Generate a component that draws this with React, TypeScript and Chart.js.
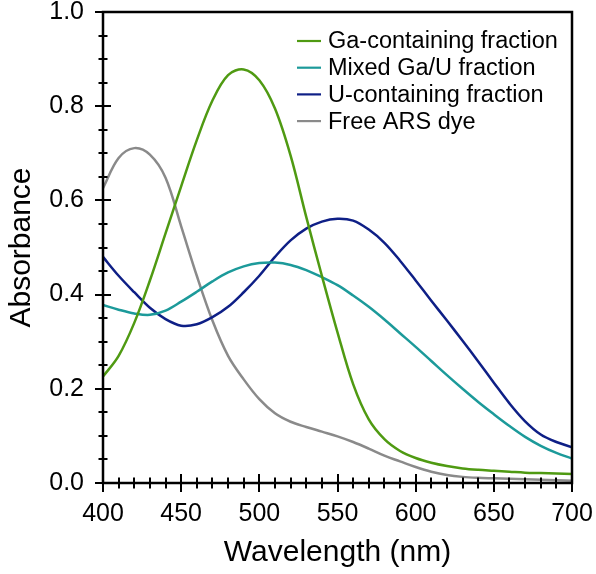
import React, { useEffect, useRef } from "react";
import { Chart, registerables } from "chart.js";

Chart.register(...registerables);

// Wavelength grid (nm)
const wavelengths = [
  400, 410, 420, 430, 440, 450, 460, 470, 480, 490, 500, 510, 520, 530, 540, 550,
  560, 570, 580, 590, 600, 610, 620, 630, 640, 650, 660, 670, 680, 690, 700,
];

// Absorbance series
const gaFraction = [
  0.226, 0.27, 0.34, 0.43, 0.53, 0.63, 0.728, 0.812, 0.866, 0.878, 0.855, 0.795,
  0.695, 0.565, 0.44, 0.32, 0.21, 0.135, 0.093, 0.068, 0.053, 0.043, 0.036, 0.031,
  0.028, 0.026, 0.024, 0.022, 0.021, 0.02, 0.019,
];
const mixedFraction = [
  0.378, 0.368, 0.36, 0.357, 0.366, 0.385, 0.406, 0.428, 0.447, 0.46, 0.467, 0.468,
  0.463, 0.452, 0.437, 0.42, 0.398, 0.374, 0.347, 0.318, 0.289, 0.259, 0.229, 0.2,
  0.172, 0.146, 0.121, 0.098, 0.079, 0.064, 0.052,
];
const uFraction = [
  0.48, 0.44, 0.405, 0.372, 0.348, 0.334, 0.337, 0.352, 0.374, 0.405, 0.44, 0.48,
  0.515, 0.54, 0.555, 0.561, 0.557, 0.538, 0.51, 0.472, 0.43, 0.387, 0.345, 0.302,
  0.258, 0.213, 0.169, 0.131, 0.103, 0.087, 0.076,
];
const freeDye = [
  0.626, 0.69, 0.711, 0.697, 0.648, 0.545, 0.44, 0.345, 0.27, 0.22, 0.178, 0.148,
  0.13, 0.119, 0.109, 0.099, 0.087, 0.073, 0.058, 0.046, 0.034, 0.024, 0.017, 0.013,
  0.011, 0.01, 0.009, 0.008, 0.007, 0.006, 0.005,
];

const seriesLabels = [
  "Ga-containing fraction",
  "Mixed Ga/U fraction",
  "U-containing fraction",
  "Free ARS dye",
];
const seriesColors = ["#4f9a12", "#1c9a9a", "#0e1f86", "#8a8a8a"];
const seriesValues = [gaFraction, mixedFraction, uFraction, freeDye];

// Axis ticks
const xMajorTicks = [400, 450, 500, 550, 600, 650, 700];
const xMinorStep = 10;
const yMajorTicks = [0, 0.2, 0.4, 0.6, 0.8, 1.0];
const yMinorStep = 0.05;

const FONT = "'Liberation Sans', Arial, sans-serif";

const frameAndTicks = {
  id: "frameAndTicks",
  afterDatasetsDraw(chart: any) {
    const { ctx, chartArea: a, scales } = chart;
    const x = scales.x;
    const y = scales.y;
    ctx.save();
    ctx.strokeStyle = "#000";
    ctx.lineWidth = 2.5;
    ctx.lineCap = "butt";
    ctx.strokeRect(a.left, a.top, a.right - a.left, a.bottom - a.top);
    ctx.lineWidth = 2;
    for (let v = yMajorTicks[0]; v <= yMajorTicks[yMajorTicks.length - 1] + 1e-6; v += yMinorStep) {
      const py = Math.round(y.getPixelForValue(v));
      const major = yMajorTicks.some((t) => Math.abs(t - v) < 1e-6);
      const h = major ? 8 : 4.5;
      ctx.beginPath();
      ctx.moveTo(a.left - h, py);
      ctx.lineTo(a.left + h, py);
      ctx.stroke();
    }
    for (let w = xMajorTicks[0]; w <= xMajorTicks[xMajorTicks.length - 1]; w += xMinorStep) {
      const px = Math.round(x.getPixelForValue(w));
      const major = xMajorTicks.includes(w);
      const h = major ? 9 : 5.5;
      ctx.beginPath();
      ctx.moveTo(px, a.bottom - h);
      ctx.lineTo(px, a.bottom + h);
      ctx.stroke();
    }
    ctx.restore();
  },
};

const insideLegend = {
  id: "insideLegend",
  afterDraw(chart: any) {
    const { ctx, chartArea: a } = chart;
    ctx.save();
    const lineX0 = a.right - 275;
    const lineX1 = lineX0 + 24;
    const textX = lineX1 + 7;
    const top = a.top + 29;
    const step = 26.7;
    ctx.font = `23.5px ${FONT}`;
    ctx.textBaseline = "middle";
    ctx.textAlign = "left";
    chart.data.datasets.forEach((ds: any, i: number) => {
      const yy = top + i * step;
      ctx.strokeStyle = ds.borderColor;
      ctx.lineWidth = 2.2;
      ctx.beginPath();
      ctx.moveTo(lineX0, yy);
      ctx.lineTo(lineX1, yy);
      ctx.stroke();
      ctx.fillStyle = "#000";
      ctx.fillText(ds.label, textX, yy + 1);
    });
    ctx.restore();
  },
};

function zeroPad(s: any) {
  s.paddingTop = 0;
  s.paddingBottom = 0;
  s.paddingLeft = 0;
  s.paddingRight = 0;
}

export default function App() {
  const ref = useRef<HTMLCanvasElement>(null);
  useEffect(() => {
    document.body.style.margin = "0";
    const canvas = ref.current;
    if (!canvas) return;
    const chart = new Chart(canvas, {
      type: "line",
      data: {
        datasets: seriesValues.map((vals, i) => ({
          label: seriesLabels[i],
          data: wavelengths.map((w, j) => ({ x: w, y: vals[j] })),
          borderColor: seriesColors[i],
          backgroundColor: seriesColors[i],
          borderWidth: 2.5,
          pointRadius: 0,
          tension: 0.35,
          fill: false,
        })),
      },
      options: {
        animation: false,
        responsive: true,
        maintainAspectRatio: false,
        layout: { padding: { left: 0, top: 12, right: 24, bottom: 0 } },
        plugins: {
          legend: { display: false },
          tooltip: { enabled: false },
        },
        scales: {
          x: {
            type: "linear",
            min: 400,
            max: 700,
            afterFit: (s: any) => {
              s.height = 91;
              zeroPad(s);
            },
            afterBuildTicks: (s: any) => {
              s.ticks = xMajorTicks.map((v) => ({ value: v }));
            },
            grid: { display: false, drawTicks: false },
            border: { display: false },
            ticks: {
              color: "#000",
              font: { family: FONT, size: 25 },
              padding: 16,
              maxRotation: 0,
              autoSkip: false,
            },
            title: {
              display: true,
              text: "Wavelength (nm)",
              color: "#000",
              font: { family: FONT, size: 30 },
              padding: { top: 0, bottom: 3 },
            },
          },
          y: {
            type: "linear",
            min: 0,
            max: 1,
            afterFit: (s: any) => {
              s.width = 103;
              zeroPad(s);
            },
            afterBuildTicks: (s: any) => {
              s.ticks = yMajorTicks.map((v) => ({ value: v }));
            },
            grid: { display: false, drawTicks: false },
            border: { display: false },
            ticks: {
              color: "#000",
              font: { family: FONT, size: 25 },
              padding: 19,
              callback: (v: any) => Number(v).toFixed(1),
            },
            title: {
              display: true,
              text: "Absorbance",
              color: "#000",
              font: { family: FONT, size: 30 },
              padding: { top: 4, bottom: 0 },
            },
          },
        },
      },
      plugins: [frameAndTicks, insideLegend],
    });
    return () => chart.destroy();
  }, []);
  return (
    <div style={{ position: "absolute", left: 0, top: 0, width: 596, height: 574 }}>
      <canvas ref={ref} />
    </div>
  );
}
